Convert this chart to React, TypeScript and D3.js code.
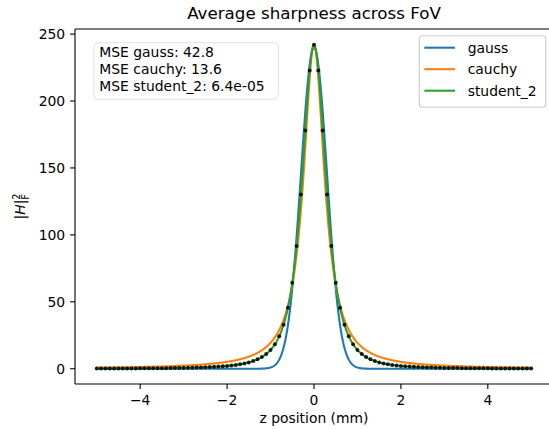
import React from "react";
import * as d3 from "d3";

// Measured profile: sample positions (mm) and mean squared Frobenius norm
const zPositions: number[] = d3.range(-50, 51).map((i) => i / 10);
const sharpness: number[] = [
  0.14, 0.15, 0.16, 0.17, 0.18, 0.19, 0.21, 0.22, 0.24, 0.26,
  0.28, 0.30, 0.32, 0.35, 0.38, 0.41, 0.44, 0.49, 0.53, 0.58,
  0.64, 0.71, 0.79, 0.88, 0.98, 1.10, 1.24, 1.40, 1.59, 1.82,
  2.09, 2.43, 2.83, 3.33, 3.95, 4.73, 5.72, 7.01, 8.70, 10.95,
  14.01, 18.25, 24.24, 32.88, 45.53, 64.26, 91.74, 130.25, 178.00, 222.75,
  242.00,
  222.75, 178.00, 130.25, 91.74, 64.26, 45.53, 32.88, 24.24, 18.25, 14.01,
  10.95, 8.70, 7.01, 5.72, 4.73, 3.95, 3.33, 2.83, 2.43, 2.09,
  1.82, 1.59, 1.40, 1.24, 1.10, 0.98, 0.88, 0.79, 0.71, 0.64,
  0.58, 0.53, 0.49, 0.44, 0.41, 0.38, 0.35, 0.32, 0.30, 0.28,
  0.26, 0.24, 0.22, 0.21, 0.19, 0.18, 0.17, 0.16, 0.15, 0.14,
];

// Fitted models
const fitNames = ["gauss", "cauchy", "student_2"];
const fitColors = ["#1f77b4", "#ff7f0e", "#2ca02c"];
const fitAmplitudes = [240, 242, 242];
const fitWidths = [0.3, 0.295, 0.2966];
const fitMse = ["42.8", "13.6", "6.4e-05"];

const xTicks = [-4, -2, 0, 2, 4];
const yTicks = [0, 50, 100, 150, 200, 250];

const W = 549;
const H = 429;
const left = 75;
const right = 553;
const top = 29;
const bottom = 384;
const FONT = "DejaVu Sans, sans-serif";
const FS = 13.9;

const model = (name: string, a: number, w: number) => (z: number) => {
  if (name === "gauss") return a * Math.exp(-(z * z) / (2 * w * w));
  if (name === "cauchy") return (a * w * w) / (z * z + w * w);
  return a * Math.pow(1 + (z * z) / (2 * w * w), -1.5);
};

const fmt = (v: number) => (v < 0 ? "\u2212" + Math.abs(v) : String(v));

export default function App() {
  const x = d3.scaleLinear().domain([-5.5, 5.5]).range([left, right]);
  const y = d3.scaleLinear().domain([-11.4, 253.8]).range([bottom, top]);
  const grid = d3.range(0, 1001).map((i) => -5 + i * 0.01);

  const line = d3
    .line<[number, number]>()
    .x((d) => x(d[0]))
    .y((d) => y(d[1]));

  const curves = fitNames.map((name, i) => {
    const f = model(name, fitAmplitudes[i], fitWidths[i]);
    return line(grid.map((z) => [z, f(z)] as [number, number])) || "";
  });

  const legendX = 419.3;
  const legendY = 35.7;
  const legendRowY = [47.7, 69.2, 90.7];

  return (
    <svg
      width={W}
      height={H}
      style={{ position: "absolute", left: 0, top: 0, background: "#fff" }}
      fontFamily={FONT}
    >
      <rect x={0} y={0} width={W} height={H} fill="#fff" />
      <defs>
        <clipPath id="plot-area">
          <rect x={left} y={top} width={right - left} height={bottom - top} />
        </clipPath>
      </defs>

      {/* title */}
      <text x={314} y={18.5} textAnchor="middle" fontSize={16.7} fill="#000">
        Average sharpness across FoV
      </text>

      {/* fitted curves with the measured points on top */}
      <g clipPath="url(#plot-area)">
        {curves.map((d, i) => (
          <path key={fitNames[i]} d={d} fill="none" stroke={fitColors[i]} strokeWidth={2.08} />
        ))}
        {zPositions.map((z, i) => (
          <circle key={i} cx={x(z)} cy={y(sharpness[i])} r={2.0} fill="#000" fillOpacity={0.85} />
        ))}
      </g>

      {/* spines */}
      <g stroke="#000" strokeWidth={1.1} fill="none">
        <line x1={left} x2={left} y1={top} y2={bottom} />
        <line x1={right} x2={right} y1={top} y2={bottom} />
        <line x1={left} x2={right} y1={top} y2={top} />
        <line x1={left} x2={right} y1={bottom} y2={bottom} />
      </g>

      {/* x axis */}
      {xTicks.map((t) => (
        <g key={"x" + t}>
          <line x1={x(t)} x2={x(t)} y1={bottom} y2={bottom + 4.9} stroke="#000" strokeWidth={1.1} />
          <text x={x(t)} y={405.3} textAnchor="middle" fontSize={FS} fill="#000">
            {fmt(t)}
          </text>
        </g>
      ))}
      <text x={314} y={423.3} textAnchor="middle" fontSize={FS} fill="#000">
        z position (mm)
      </text>

      {/* y axis */}
      {yTicks.map((t) => (
        <g key={"y" + t}>
          <line x1={left - 4.9} x2={left} y1={y(t)} y2={y(t)} stroke="#000" strokeWidth={1.1} />
          <text x={65.2} y={y(t) + 5} textAnchor="end" fontSize={FS} fill="#000">
            {fmt(t)}
          </text>
        </g>
      ))}
      <text transform="translate(25,206.5) rotate(-90)" textAnchor="middle" fontSize={FS} fill="#000">
        |<tspan fontStyle="italic">H</tspan>|
        <tspan dy={-5} fontSize={9.7}>2</tspan>
        <tspan dx={-6.2} dy={9} fontSize={9.7}>F</tspan>
      </text>

      {/* MSE annotation */}
      <rect x={94} y={42.7} width={184.3} height={56.6} rx={4} fill="#fff" fillOpacity={0.5} stroke="#000" strokeOpacity={0.12} strokeWidth={1.1} />
      {fitNames.map((name, i) => (
        <text key={"mse" + name} x={99.3} y={57.3 + i * 16.8} fontSize={FS} fill="#000">
          {`MSE ${name}: ${fitMse[i]}`}
        </text>
      ))}

      {/* legend */}
      <rect x={legendX} y={legendY} width={126.4} height={71.6} rx={3} fill="#fff" fillOpacity={0.8} stroke="#ccc" strokeWidth={1.1} />
      {fitNames.map((name, i) => (
        <g key={"lg" + name}>
          <line x1={424.3} x2={455} y1={legendRowY[i]} y2={legendRowY[i]} stroke={fitColors[i]} strokeWidth={2.08} />
          <text x={467.7} y={legendRowY[i] + 5} fontSize={FS} fill="#000">
            {name}
          </text>
        </g>
      ))}
    </svg>
  );
}
